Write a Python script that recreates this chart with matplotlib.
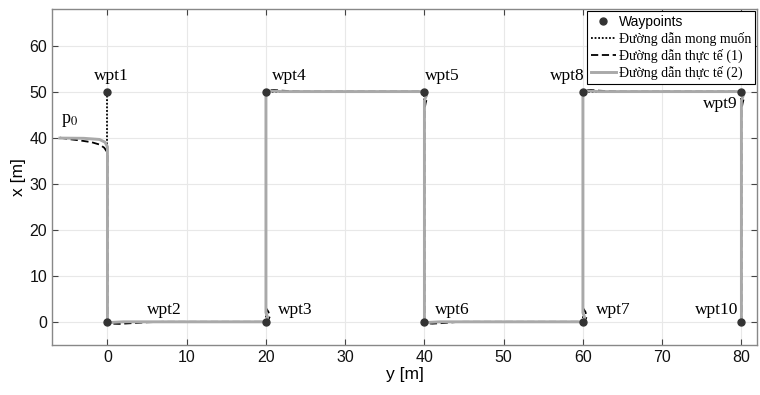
import matplotlib
matplotlib.use('Agg')
import matplotlib.pyplot as plt

plt.rcParams['font.family'] = 'Liberation Sans'
plt.rcParams['mathtext.fontset'] = 'stix'

# waypoints (horizontal axis = y, vertical axis = x)
wp_y = [0, 0, 20, 20, 40, 40, 60, 60, 80, 80]
wp_x = [50, 0, 0, 50, 50, 0, 0, 50, 50, 0]
wp_names = ['wpt1', 'wpt2', 'wpt3', 'wpt4', 'wpt5', 'wpt6', 'wpt7', 'wpt8', 'wpt9', 'wpt10']
lbl_y = [0.5, 5.0, 21.5, 20.8, 40.1, 41.3, 61.6, 60.2, 79.5, 79.6]
lbl_x = [53.3, 2.6, 2.6, 53.3, 53.3, 2.6, 2.6, 53.3, 47.3, 2.6]
lbl_ha = ['center', 'left', 'left', 'left', 'left', 'left', 'left', 'right', 'right', 'right']

p0 = (-6, 40)

# actual path (1)
path1_y = [-6, -5, -3.5, -2, -1, -0.4, -0.1, 0,
           0, 0.05, 0.5, 1.5, 3, 5, 7,
           19.7, 20.3, 20.5, 20.3, 20,
           20, 20.2, 21, 22, 23.5, 25,
           39.7, 40.2, 40.3, 40.15, 40,
           40, 40.2, 41, 42.5, 44, 45,
           59.7, 60.3, 60.5, 60.3, 60,
           60, 60.2, 61, 62, 63.5, 65,
           79.7, 80.2, 80.3, 80.15, 80,
           80]
path1_x = [40, 39.7, 39.4, 39, 38.5, 37.8, 37, 36,
           0.4, -0.2, -0.4, -0.45, -0.3, -0.1, 0,
           0, 0.4, 1.2, 2.2, 3,
           49.6, 50.3, 50.35, 50.2, 50.05, 50,
           50, 49.6, 48.5, 47.5, 46,
           0.3, -0.3, -0.4, -0.25, -0.05, 0,
           0, 0.4, 1.2, 2.2, 3,
           49.6, 50.3, 50.35, 50.2, 50.05, 50,
           50, 49.6, 48.5, 47.5, 46,
           0]

# actual path (2)
path2_y = [-6, -3, -1, -0.3, 0,
           0, 0.3, 2,
           19.8, 20.15, 20.2, 20,
           20, 20.3, 22,
           39.8, 40.15, 40.2, 40,
           40, 40.3, 42,
           59.8, 60.15, 60.2, 60,
           60, 60.3, 62,
           79.8, 80.15, 80.2, 80,
           80]
path2_x = [39.9, 39.85, 39.6, 39, 38,
           0.3, -0.15, 0,
           0, 0.3, 1, 2,
           49.8, 50.15, 50,
           50, 49.7, 49, 48,
           0.2, -0.15, 0,
           0, 0.3, 1, 2,
           49.8, 50.15, 50,
           50, 49.7, 49, 48,
           0]

fig = plt.figure(figsize=(7.6, 3.95), dpi=100)
ax = fig.add_axes([0.0684, 0.127, 0.928, 0.851])

ax.plot(wp_y, wp_x, ls='none', marker='o', ms=5, color='#333333', label='Waypoints', zorder=5)
ax.plot(wp_y, wp_x, ls=(0, (1, 1)), lw=1.3, color='black', label='Đường dẫn mong muốn', zorder=2)
ax.plot(path1_y, path1_x, ls=(0, (4, 2)), lw=1.3, color='black', label='Đường dẫn thực tế (1)', zorder=3)
ax.plot(path2_y, path2_x, ls='-', lw=2.1, color='#a9a9a9', label='Đường dẫn thực tế (2)', zorder=4)

for n, ty, tx, ha in zip(wp_names, lbl_y, lbl_x, lbl_ha):
    ax.text(ty, tx, n, ha=ha, va='center', fontsize=12.5, family='Liberation Serif')
ax.text(p0[0] + 1.2, p0[1] + 3.8, r'p$_0$', ha='center', va='center', fontsize=13, family='Liberation Serif')

ax.set_xlim(-7, 82)
ax.set_ylim(-5, 68)
ax.set_xticks(range(0, 81, 10))
ax.set_yticks(range(0, 61, 10))
ax.tick_params(direction='in', top=True, right=True, labelsize=11.5, length=4, color='#444444', labelcolor='#111111')
for s in ax.spines.values():
    s.set_color('#888888')
    s.set_linewidth(1.0)
ax.grid(True, color='#e8e8e8', lw=0.8)
ax.set_axisbelow(True)
ax.set_xlabel('y [m]', fontsize=12.5, labelpad=2)
ax.set_ylabel('x [m]', fontsize=12.5, labelpad=2)

leg = ax.legend(loc='upper right', fontsize=10, fancybox=False, framealpha=1, edgecolor='black',
                borderpad=0.3, labelspacing=0.2, handlelength=1.8, handletextpad=0.2,
                borderaxespad=0.15)
leg.get_frame().set_linewidth(0.8)
for i, t in enumerate(leg.get_texts()):
    if i > 0:
        t.set_family('Liberation Serif')

fig.savefig('out.png', dpi=100)
